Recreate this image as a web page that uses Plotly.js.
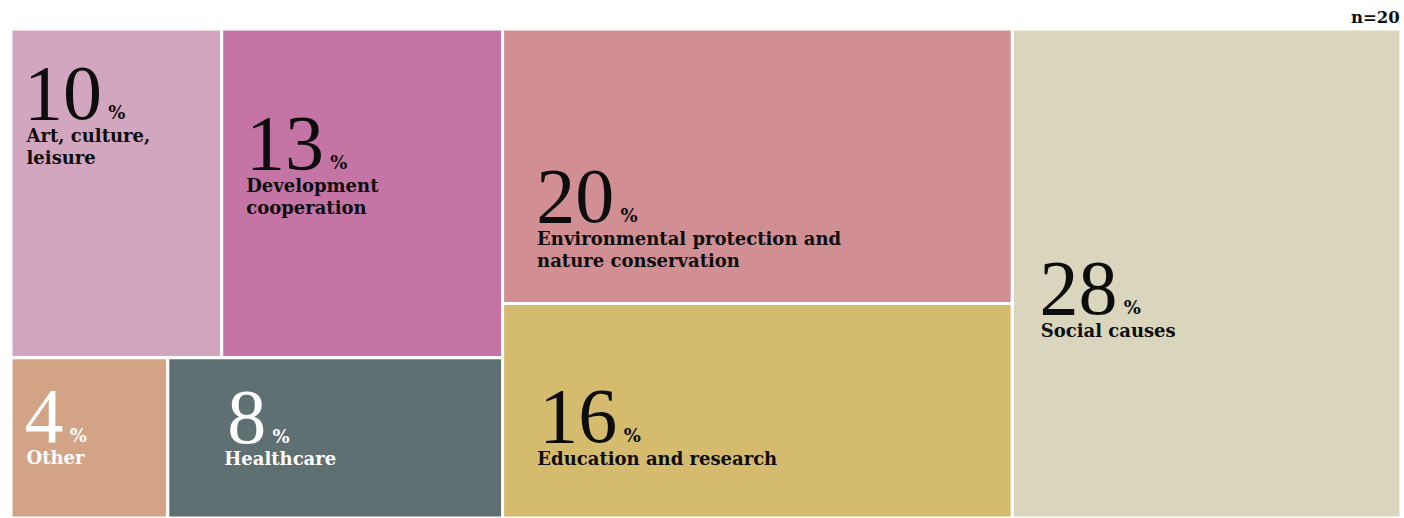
<!DOCTYPE html>
<html>
<head>
<meta charset="utf-8">
<script src="https://cdn.plot.ly/plotly-3.0.1.min.js"></script>
<style>html,body{margin:0;padding:0;background:#fff;}#chart{width:1404px;height:518px;}</style>
</head>
<body>
<div id="chart"></div>
<script>
// ---- data ----
const categories = ['Art, culture, leisure', 'Development cooperation', 'Other', 'Healthcare',
  'Environmental protection and nature conservation', 'Education and research', 'Social causes'];
const shareLabels = [10, 13, 4, 8, 20, 16, 28];                 // printed percentages
const shareValues = [10.2, 13.6, 3.7, 7.9, 20.6, 16.1, 28.0];   // tile sizes (estimated from areas)
const groupOf = ['A1', 'A1', 'A2', 'A2', 'B', 'B', 'root'];
const labelLines = [['Art, culture,', 'leisure'], ['Development', 'cooperation'], ['Other'], ['Healthcare'],
  ['Environmental protection and', 'nature conservation'], ['Education and research'], ['Social causes']];
const groupIds = ['root', 'A', 'A1', 'A2', 'B'];
const groupParents = ['', 'root', 'A', 'A', 'root'];
const sampleNote = 'n=20';

// ---- styles ----
const tileColors = ['#d3a6c0', '#c475a6', '#d3a386', '#5f7072', '#d18f94', '#d5bb6e', '#d9d6bd'];
const textColors = ['#0d0d0d', '#0d0d0d', '#ffffff', '#ffffff', '#0d0d0d', '#0d0d0d', '#0d0d0d'];
const labelInset = [14, 23, 14, 55, 33, 33.3, 27];        // label ink inset from tile edge (px)
const numberInset = [13.3, 24.7, 14, 60, 34, 37.3, 27.7]; // number ink inset from tile edge (px)
const numBaseline = [88.3, 138.3, 82.5, 83, 191.7, 137, 283.3]; // number baseline below tile top (px)

const BASE = 17.5, NUM = 78, LAB = 18, ASC = 0.891, TEXTPAD = 3, HALF = 1.5, DIGIT_LSB = 0.025;

function spacer(off) {
  const s = (off + HALF - TEXTPAD - 1.3 * BASE) / ASC;
  return '<span style="font-family:Liberation Serif;font-size:' + s.toFixed(1) + 'px;fill:rgba(0,0,0,0)">.</span>';
}
function indent(w) {
  const n = 4;
  const fs = Math.max(w, 0.5) / (n * 0.25);
  return '<span style="font-family:Liberation Serif;font-size:' + fs.toFixed(1) + 'px">' + '\u00a0'.repeat(n) + '</span>';
}
function cellText(i) {
  const pct = String(shareLabels[i]);
  let t = spacer(numBaseline[i]) + '<br>' +
    indent(numberInset[i] + HALF - TEXTPAD - DIGIT_LSB * NUM) +
    '<span style="font-family:Liberation Serif;font-size:' + NUM + 'px">' + pct + '</span>' +
    '<span style="font-size:' + LAB + 'px"><b>\u00a0%</b></span>';
  labelLines[i].forEach(l => {
    t += '<br>' + indent(labelInset[i] + HALF - TEXTPAD) +
      '<span style="font-size:' + LAB + 'px"><b>' + l + '</b></span>';
  });
  return t;
}

const ids = groupIds.concat(categories);
const parents = groupParents.concat(groupOf);
const values = groupIds.map(() => 0).concat(shareValues);
const texts = groupIds.map(() => '').concat(categories.map((c, i) => cellText(i)));
const colors = groupIds.map(() => '#ffffff').concat(tileColors);
const tcolors = groupIds.map(() => '#0d0d0d').concat(textColors);

const trace = {
  type: 'treemap',
  ids: ids,
  labels: ids,
  parents: parents,
  values: values,
  branchvalues: 'remainder',
  sort: false,
  text: texts,
  textinfo: 'text',
  textposition: 'top left',
  textfont: {family: 'DejaVu Serif', size: BASE, color: tcolors},
  hoverinfo: 'skip',
  pathbar: {visible: false},
  tiling: {packing: 'slice-dice', pad: 0},
  marker: {
    colors: colors,
    line: {color: '#ffffff', width: 3},
    pad: {t: 0, l: 0, r: 0, b: 0},
    depthfade: false
  }
};

const layout = {
  width: 1404, height: 518,
  margin: {l: 10.5, r: 2.5, t: 28.5, b: 0},
  paper_bgcolor: '#ffffff',
  showlegend: false,
  annotations: [{
    text: '<b>' + sampleNote + '</b>', xref: 'paper', yref: 'paper', x: 1, y: 1,
    xanchor: 'right', yanchor: 'middle', yshift: 12, xshift: 1, showarrow: false,
    font: {family: 'DejaVu Serif', size: 16.5, color: '#0d0d0d'}
  }]
};

Plotly.newPlot('chart', [trace], layout, {displayModeBar: false, staticPlot: true});
</script>
</body>
</html>
